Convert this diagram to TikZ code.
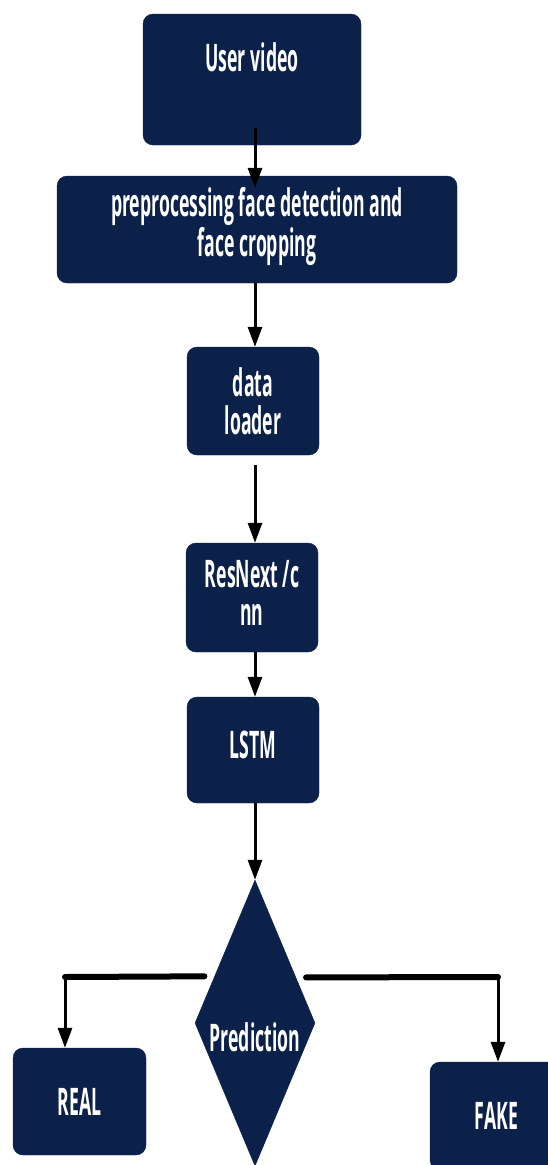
\documentclass[tikz,border=0pt]{standalone}
\usepackage{fontspec}
\newfontfamily\boxfont[FakeStretch=0.465]{Open Sans}
\usetikzlibrary{shapes.geometric,arrows.meta,calc}
\definecolor{navy}{HTML}{0B214A}
\tikzset{
  txt/.style={text=white, font=\boxfont\bfseries\fontsize{38}{38}\selectfont, align=center},
  box/.style={txt, draw=navy, fill=navy, rounded corners=10pt, inner sep=0pt},
  decision/.style={diamond, draw=navy, fill=navy, inner sep=0pt},
  arr/.style={line width=3pt, -{Triangle[width=14pt,length=20pt]}},
  bar/.style={line width=6pt, line cap=round},
}
\begin{document}
\begin{tikzpicture}[x=1pt,y=-1pt]
\useasboundingbox (0,0) rectangle (547,1165);
\fill[white] (0,0) rectangle (547,1165);
\node[box, minimum width=218pt, minimum height=131pt, text height=28pt, text depth=44pt] (uv) at (252,79.5) {User video};
\node[box, minimum width=400pt, minimum height=107pt,
      label={[txt, yshift=3pt]center:preprocessing face detection and\\face cropping}] (pre) at (257,229.5) {};
\node[box, minimum width=132pt, minimum height=108pt] (dl) at (253,401) {data\\loader};
\node[box, minimum width=132pt, minimum height=109pt,
      label={[txt, yshift=5pt]center:ResNext /c\\nn}] (rn) at (252,597.5) {};
\node[box, minimum width=132pt, minimum height=106pt,
      label={[txt, yshift=5pt]center:LSTM}] (lstm) at (253,750) {};
\node[decision, minimum width=120pt, minimum height=286pt,
      label={[txt, yshift=-14pt]center:Prediction}] (pred) at (255,1023) {};
\node[box, minimum width=133pt, minimum height=107pt] (real) at (79.5,1101.5) {REAL};
\node[box, minimum width=133pt, minimum height=108pt] (fake) at (496.5,1116) {FAKE};
\coordinate (lc) at (65,977);
\coordinate (rc) at (498,977);
\draw[arr] ([yshift=17pt]uv.south -| pred.north) -- ([yshift=-12pt]pre.north -| pred.north);
\draw[arr] (pre.south -| pred.north) -- (dl.north -| pred.north);
\draw[arr] ([yshift=-10pt]dl.south -| pred.north) -- (rn.north -| pred.north);
\draw[arr] (rn.south -| pred.north) -- (lstm.north -| pred.north);
\draw[arr] (lstm.south -| pred.north) -- (pred.north);
\draw[bar] ([xshift=-10pt]pred.131.5) -- (lc);
\draw[bar] ([xshift=10pt]pred.48.5) -- (rc);
\draw[arr] (lc) -- (lc |- real.north);
\draw[arr] (rc) -- (rc |- fake.north);
\end{tikzpicture}
\end{document}
